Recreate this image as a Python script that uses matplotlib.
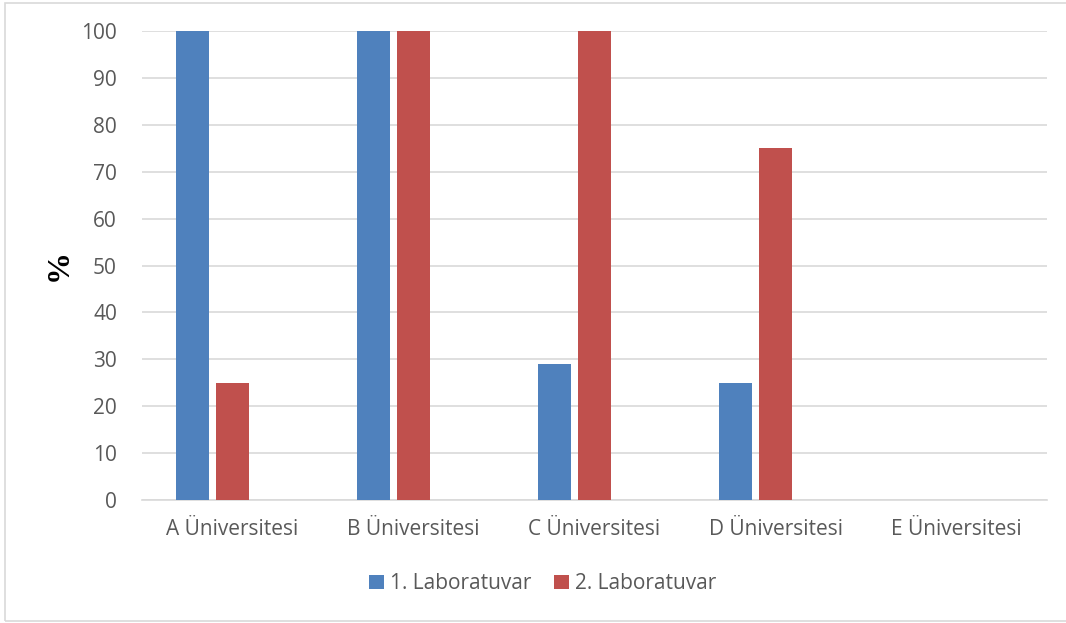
import numpy as np
import matplotlib.pyplot as plt
from matplotlib.patches import Rectangle

universiteler = ["A Üniversitesi", "B Üniversitesi", "C Üniversitesi", "D Üniversitesi", "E Üniversitesi"]
lab1 = [100, 100, 29, 25, 0]
lab2 = [25, 100, 100, 75, 0]
seriler = ["1. Laboratuvar", "2. Laboratuvar"]

mavi = "#4F81BD"
kirmizi = "#C0504D"
yazi = "#595959"
izgara = "#D9D9D9"

plt.rcParams["font.family"] = ["Open Sans", "DejaVu Sans"]

fig = plt.figure(figsize=(10.66, 6.23), dpi=100)
ax = fig.add_axes([0.1332, 0.1974, 0.849, 0.7528])

x = np.arange(len(universiteler))
w = 0.177
b1 = ax.bar(x - 0.221, lab1, w, color=mavi, label=seriler[0], zorder=3)
b2 = ax.bar(x, lab2, w, color=kirmizi, label=seriler[1], zorder=3)

ax.set_xlim(-0.5, len(universiteler) - 0.5)
ax.set_ylim(0, 100)
ax.set_yticks(range(0, 101, 10))
ax.set_xticks(x)
ax.set_xticklabels(universiteler)
ax.grid(axis="y", color=izgara, linewidth=1.2, zorder=0)
ax.set_axisbelow(True)
ax.tick_params(length=0, labelsize=15, colors=yazi)
ax.tick_params(axis="y", pad=18)
ax.tick_params(axis="x", pad=14)
for s in ["top", "right", "left"]:
    ax.spines[s].set_visible(False)
ax.spines["bottom"].set_color(izgara)
ax.spines["bottom"].set_linewidth(1.2)

# eksen başlığı
fig.text(0.0555, 0.574, "%", rotation=90, ha="center", va="center",
         family="Liberation Serif", fontweight="bold", fontsize=23)

leg = fig.legend(handles=[b1, b2], loc="center", bbox_to_anchor=(0.509, 0.063), ncol=2,
                 frameon=False, fontsize=15, handlelength=0.7, handleheight=0.7,
                 handletextpad=0.3, columnspacing=1.1)
for t in leg.get_texts():
    t.set_color(yazi)

# dış çerçeve
fig.patches.append(Rectangle((0.005, 0.003), 1.2, 0.992, transform=fig.transFigure,
                             fill=False, edgecolor=izgara, linewidth=1.2))

fig.savefig("out.png", dpi=100, facecolor="white")
